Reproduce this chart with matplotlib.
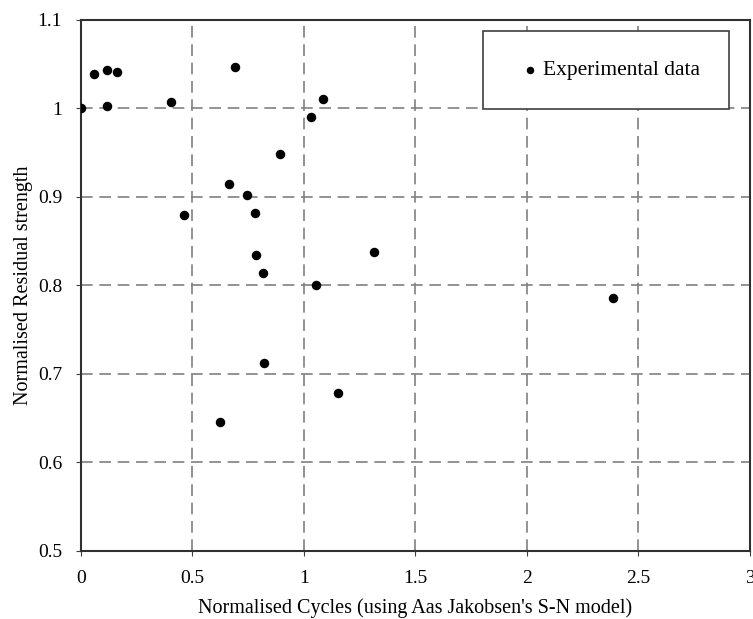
import matplotlib
matplotlib.use("Agg")
import matplotlib.pyplot as plt
import numpy as np

# normalised cycles vs normalised residual strength
cycles = [0.0, 0.059, 0.116, 0.162, 0.116, 0.402, 0.690, 1.086, 1.031, 0.893,
          0.665, 0.743, 0.463, 0.780, 0.786, 0.818, 1.052, 0.821, 1.153, 0.625,
          1.316, 2.388]
strength = [1.000, 1.039, 1.043, 1.041, 1.003, 1.007, 1.047, 1.011, 0.990, 0.949,
            0.915, 0.902, 0.880, 0.882, 0.835, 0.814, 0.801, 0.712, 0.678, 0.646,
            0.838, 0.786]

x_ticks = [0, 0.5, 1, 1.5, 2, 2.5, 3]
x_labels = ["0", "0.5", "1", "1.5", "2", "2.5", "3"]
y_ticks = [0.5, 0.6, 0.7, 0.8, 0.9, 1.0, 1.1]
y_labels = ["0.5", "0.6", "0.7", "0.8", "0.9", "1", "1.1"]

plt.rcParams['font.family'] = ['Liberation Serif', 'DejaVu Serif']

fig = plt.figure(figsize=(7.53, 6.19), dpi=100)
ax = fig.add_axes([0.1076, 0.1099, 0.888, 0.8578])

ax.scatter(cycles, strength, s=34, c="black", zorder=3, label="Experimental data")

ax.set_xlim(0, 3)
ax.set_ylim(0.5, 1.1)
ax.set_xticks(x_ticks)
ax.set_xticklabels(x_labels)
ax.set_yticks(y_ticks)
ax.set_yticklabels(y_labels)
ax.tick_params(labelsize=14, direction="out", length=3.6, pad=10, color="#404040")

ax.grid(True, color="#808080", linestyle=(0, (7, 4)), linewidth=1.2)
for sp in ax.spines.values():
    sp.set_color("#303030")
    sp.set_linewidth(1.5)

ax.set_xlabel("Normalised Cycles (using Aas Jakobsen's S-N model)", fontsize=14.5, labelpad=8)
ax.set_ylabel("Normalised Residual strength", fontsize=14.5, labelpad=3)

leg = ax.legend(loc="upper right", bbox_to_anchor=(0.9686, 0.979), fontsize=15.5,
                handletextpad=-0.23, handlelength=1.67, markerscale=0.75, borderpad=1.35,
                borderaxespad=0, fancybox=False, framealpha=1, edgecolor="#404040")
leg.get_frame().set_linewidth(1.2)

fig.savefig("out.png", dpi=100)
